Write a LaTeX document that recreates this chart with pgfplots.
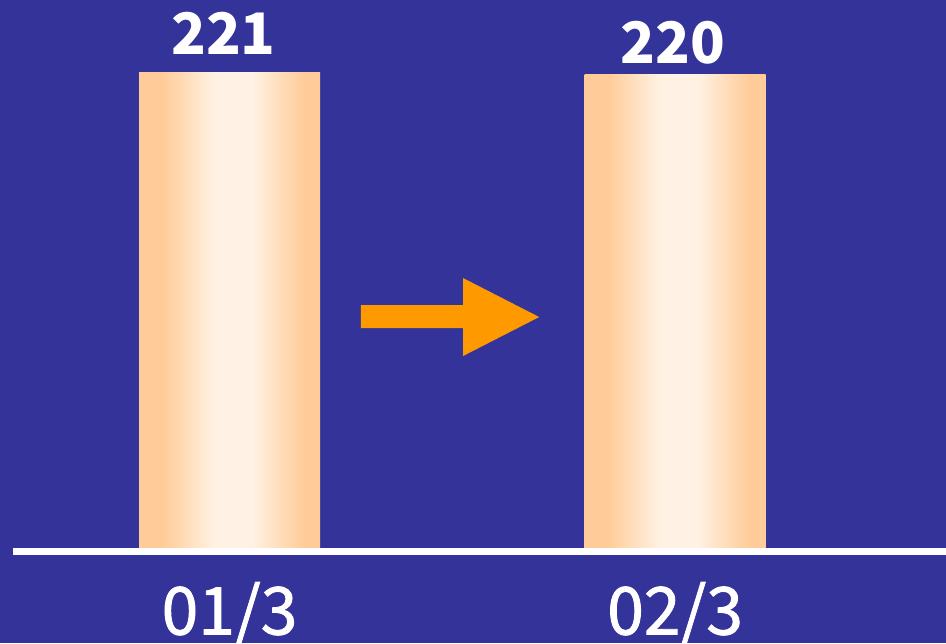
\documentclass[border=0pt]{standalone}
\usepackage{fontspec}
\setmainfont{Noto Sans CJK JP}
\newfontfamily\labelfont{Noto Sans CJK JP}[FakeBold=1.3]
\usepackage{pgfplots}
\pgfplotsset{compat=1.18}

\definecolor{bgblue}{RGB}{51,51,153}
\definecolor{peach}{RGB}{255,204,153}
\definecolor{cream}{RGB}{255,242,228}
\definecolor{arroworange}{RGB}{255,153,0}

% cylinder-like horizontal gradient for the bars (25bp..75bp spans the bar)
\pgfdeclarehorizontalshading{barshade}{100bp}{%
  color(0bp)=(peach); color(25bp)=(peach); color(31.5bp)=(peach);
  color(46bp)=(cream); color(56bp)=(cream);
  color(70.5bp)=(peach); color(75bp)=(peach); color(100bp)=(peach)}

\begin{document}
\begin{tikzpicture}
  % page background
  \fill[bgblue] (0,0) rectangle (473pt,321.5pt);

  \begin{axis}[
    at={(6.5pt,45.75pt)}, anchor=south west,
    scale only axis,
    width=466.5pt, height=275.75pt,
    xmin=-0.486, xmax=1.608,
    ymin=0, ymax=254.5,
    axis y line=none,
    axis x line*=bottom,
    x axis line style={draw=none},
    xtick={0,1},
    xticklabels={01/3,02/3},
    major tick length=0pt,
    xticklabel style={anchor=base, yshift=-41.5pt, text=white,
      font=\labelfont\fontsize{33}{35}\selectfont},
    ytick=\empty,
    clip=false,
    /pgf/number format/assume math mode=true,
    every node near coord/.append style={anchor=base, inner sep=0pt,
      text=white, font=\bfseries\fontsize{28.6}{30}\selectfont},
  ]
    \addplot[ybar, bar width=90.5pt, bar shift=0pt, draw=none,
      shading=barshade, nodes near coords,
      every node near coord/.append style={yshift=8.85pt, xshift=-3pt}]
      coordinates {(0,221)};
    \addplot[ybar, bar width=90.5pt, bar shift=0pt, draw=none,
      shading=barshade, nodes near coords,
      every node near coord/.append style={yshift=5.75pt, xshift=-1pt}]
      coordinates {(1,220)};

    % white baseline over the bar feet
    \draw[white, line width=3.5pt] (rel axis cs:0,0) -- (rel axis cs:1,0);

    % block arrow between the two bars
    \fill[arroworange]
      (axis cs:0.295,113.75) -- (axis cs:0.524,113.75) -- (axis cs:0.524,126.2)
      -- (axis cs:0.695,108.2) -- (axis cs:0.524,90.2) -- (axis cs:0.524,103.1)
      -- (axis cs:0.295,103.1) -- cycle;
  \end{axis}

  \pgfresetboundingbox
  \path (0,0) rectangle (473pt,321.5pt);
\end{tikzpicture}
\end{document}
